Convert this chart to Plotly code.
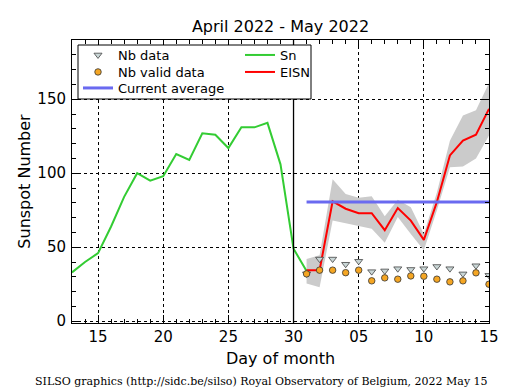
import plotly.graph_objects as go

# ---------------- data ----------------
sn_dates = [f"2022-04-{d:02d}" for d in range(13, 31)] + ["2022-05-01"]
sn_values = [33, 40, 46, 64, 84, 100, 95, 98, 113, 109, 127, 126, 117, 131, 131, 134, 106, 49, 34]

may_dates = [f"2022-05-{d:02d}" for d in range(1, 16)]
eisn_values = [34.5, 34.5, 81, 76, 73, 73, 61.5, 76.5, 68, 55, 80.5, 112, 122, 126, 143.5]
eisn_upper = [42, 44.5, 96, 86, 83.5, 84.5, 71, 82, 77, 59, 87, 122, 139, 142.5, 161]
eisn_lower = [25.5, 23, 68, 66, 64, 62.5, 53, 70.5, 59, 48, 75, 104, 104.5, 110, 125.5]
nb_data = [32, 42, 42, 38.5, 40.5, 33.5, 34, 35.5, 35, 35.5, 37, 35.5, 32, 37.5, 31]
nb_valid = [32, 34.5, 34.5, 32.8, 34.5, 27.3, 29.3, 28.4, 30.6, 30.4, 28.4, 26.6, 27.3, 32.7, 25]
current_average = 80.6
avg_dates = ["2022-05-01", "2022-05-15"]
separator_date = "2022-04-30"

x_range = ["2022-04-13", "2022-05-15"]
y_range = [-1.2, 190]
x_tickvals = ["2022-04-15", "2022-04-20", "2022-04-25", "2022-04-30",
              "2022-05-05", "2022-05-10", "2022-05-15"]
x_ticktext = ["15", "20", "25", "30", "05", "10", "15"]
y_tickvals = [0, 50, 100, 150]

title_text = "April 2022 - May 2022"
footer_text = "SILSO graphics (http://sidc.be/silso) Royal Observatory of Belgium, 2022 May 15"

# ---------------- layout geometry ----------------
W, H = 515, 390
ML, MR, MT, MB = 72, 26, 40, 67
PW, PH = W - ML - MR, H - MT - MB

def px_x(p):
    return (p - ML) / PW

def px_y(p):
    return 1 - (p - MT) / PH

FONT = "DejaVu Sans"

fig = go.Figure()

# uncertainty band
fig.add_trace(go.Scatter(x=may_dates, y=eisn_lower, mode="lines",
                         line=dict(width=0, color="#c8c8c8"),
                         showlegend=False, hoverinfo="skip"))
fig.add_trace(go.Scatter(x=may_dates, y=eisn_upper, mode="lines", fill="tonexty",
                         fillcolor="#cbcbcb", line=dict(width=0, color="#c8c8c8"),
                         showlegend=False, hoverinfo="skip"))

fig.add_trace(go.Scatter(x=sn_dates, y=sn_values, mode="lines", name="Sn",
                         line=dict(color="#33cc33", width=2), legend="legend4"))
fig.add_trace(go.Scatter(x=may_dates, y=eisn_values, mode="lines", name="EISN",
                         line=dict(color="#ff0000", width=2), legend="legend5"))
fig.add_trace(go.Scatter(x=avg_dates, y=[current_average, current_average], mode="lines",
                         name="Current average",
                         line=dict(color="#6a6af0", width=3), legend="legend3"))
fig.add_trace(go.Scatter(x=may_dates, y=nb_data, mode="markers", name="Nb data",
                         marker=dict(symbol="triangle-down", size=7, color="#c9d6d6",
                                     line=dict(color="#444444", width=0.8)),
                         legend="legend"))
fig.add_trace(go.Scatter(x=may_dates, y=nb_valid, mode="markers", name="Nb valid data",
                         marker=dict(symbol="circle", size=6.5, color="#f5a623",
                                     line=dict(color="#333333", width=0.8)),
                         legend="legend2"))

fig.add_vline(x=separator_date, line=dict(color="black", width=1.3), layer="above")

# legend frame
fig.add_shape(type="rect", xref="paper", yref="paper",
              x0=px_x(78), x1=px_x(311), y0=px_y(99), y1=px_y(45),
              line=dict(color="black", width=1), fillcolor="white", layer="above")

axis_common = dict(showline=True, linecolor="black", linewidth=1, mirror="ticks",
                   ticks="inside", ticklen=8, tickcolor="black", tickwidth=1,
                   showgrid=True, gridcolor="black", griddash="dot", gridwidth=1,
                   zeroline=False, tickfont=dict(family=FONT, size=15, color="black"))

fig.update_xaxes(type="date", range=x_range, tickmode="array", tickvals=x_tickvals,
                 ticktext=x_ticktext,
                 minor=dict(dtick=86400000, tick0="2022-04-13", ticks="inside",
                            ticklen=4, tickcolor="black", showgrid=False),
                 title=dict(text="Day of month", font=dict(family=FONT, size=16, color="black"),
                            standoff=7),
                 **axis_common)
fig.update_yaxes(range=y_range, tickmode="array", tickvals=y_tickvals,
                 minor=dict(dtick=10, tick0=0, ticks="inside", ticklen=4,
                            tickcolor="black", showgrid=False),
                 ticklabelstandoff=2,
                 title=dict(text="Sunspot Number", font=dict(family=FONT, size=16, color="black"),
                            standoff=2),
                 **axis_common)

legend_common = dict(bgcolor="rgba(0,0,0,0)", borderwidth=0, xanchor="left",
                     yanchor="middle", orientation="v",
                     font=dict(family=FONT, size=13, color="black"),
                     itemwidth=30)

col1, col2 = 78, 240
row1, row2, row3 = 55, 72, 88

fig.update_layout(
    width=W, height=H,
    margin=dict(l=ML, r=MR, t=MT, b=MB),
    paper_bgcolor="white", plot_bgcolor="white",
    showlegend=True,
    legend=dict(x=px_x(col1), y=px_y(row1), **legend_common),
    legend2=dict(x=px_x(col1), y=px_y(row2), **legend_common),
    legend3=dict(x=px_x(col1), y=px_y(row3), **legend_common),
    legend4=dict(x=px_x(col2), y=px_y(row1), **legend_common),
    legend5=dict(x=px_x(col2), y=px_y(row2), **legend_common),
    title=dict(text=title_text, x=0.5, xref="paper", xanchor="center",
               y=1 - 26 / H, yanchor="middle", yref="container",
               font=dict(family=FONT, size=16, color="black")),
    annotations=[dict(text=footer_text, xref="paper", yref="paper",
                      x=px_x(261), y=px_y(381), xanchor="center", yanchor="middle",
                      showarrow=False,
                      font=dict(family="DejaVu Serif", size=11, color="black"))],
)

fig.write_html("out.html", config={"displayModeBar": False},
               post_script="document.body.style.margin='0';document.body.style.overflow='hidden';")
